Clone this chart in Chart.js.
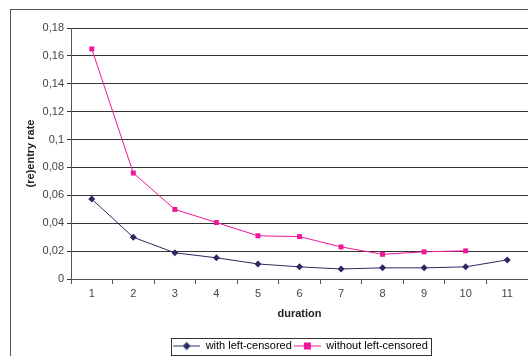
<!DOCTYPE html>
<html>
<head>
<meta charset="utf-8">
<script src="https://cdn.jsdelivr.net/npm/chart.js@4/dist/chart.umd.min.js"></script>
<style>
  html, body { margin: 0; padding: 0; background: #fff; }
  #wrap { width: 528px; height: 356px; position: relative; }
</style>
</head>
<body>
<div id="wrap"><canvas id="c" width="528" height="356"></canvas></div>
<script>
// Durations (categories) and re-entry rates per series
const durations = ['1', '2', '3', '4', '5', '6', '7', '8', '9', '10', '11'];
const withLeftCensored = [0.0573, 0.0299, 0.0188, 0.0152, 0.0108, 0.0087, 0.0072, 0.0080, 0.0080, 0.0087, 0.0137];
const withoutLeftCensored = [0.165, 0.076, 0.0499, 0.0405, 0.031, 0.0304, 0.023, 0.0177, 0.0195, 0.0202, null];
const yTicks = [0, 0.02, 0.04, 0.06, 0.08, 0.1, 0.12, 0.14, 0.16, 0.18];

const NAVY = '#2a2a62';
const PINK = '#f0169a';
const FONT = 'Liberation Sans, Arial, sans-serif';

// Legend swatch: short line with the series marker in the middle (small lead-in gap)
function swatch(color, shape) {
  const cv = document.createElement('canvas');
  cv.width = 29; cv.height = 10;
  const g = cv.getContext('2d');
  g.strokeStyle = color; g.lineWidth = 1;
  g.beginPath(); g.moveTo(2, 5.5); g.lineTo(29, 5.5); g.stroke();
  g.fillStyle = color;
  if (shape === 'diamond') {
    g.beginPath(); g.moveTo(15.5, 1.5); g.lineTo(19.5, 5.5); g.lineTo(15.5, 9.5); g.lineTo(11.5, 5.5); g.closePath(); g.fill();
  } else {
    g.fillRect(12, 2, 7, 7);
  }
  return cv;
}

// Outer frame, legend centred under the plot area, legend border
const framePlugin = {
  id: 'frame',
  afterLayout(chart) {
    const lg = chart.legend, ca = chart.chartArea;
    if (lg) {
      lg.left = ca.left; lg.right = ca.right; lg.width = ca.right - ca.left;
      lg.top += 5; lg.bottom += 5;
    }
  },
  beforeDraw(chart) {
    const ctx = chart.ctx;
    ctx.save();
    ctx.fillStyle = '#fff';
    ctx.fillRect(0, 0, chart.width, chart.height);
    ctx.strokeStyle = '#555';
    ctx.lineWidth = 1;
    ctx.strokeRect(10.5, 9.5, 700, 500);
    ctx.restore();
  },
  afterDraw(chart) {
    const lg = chart.legend, ca = chart.chartArea;
    const lw = lg.lineWidths[0];
    const start = (ca.left + ca.right - lw) / 2;
    const x = Math.round(start) + 0.5;
    const w = Math.round(lw + 3);
    const ctx = chart.ctx;
    ctx.save();
    ctx.strokeStyle = '#333';
    ctx.lineWidth = 1;
    ctx.strokeRect(x, 338.5, w, 17);
    ctx.restore();
  }
};

new Chart(document.getElementById('c'), {
  type: 'line',
  data: {
    labels: durations,
    datasets: [
      {
        label: 'with left-censored',
        data: withLeftCensored,
        borderColor: NAVY,
        backgroundColor: NAVY,
        borderWidth: 1,
        pointStyle: 'rectRot',
        pointRadius: 3.5,
        pointBorderWidth: 0,
        tension: 0
      },
      {
        label: 'without left-censored',
        data: withoutLeftCensored,
        borderColor: PINK,
        backgroundColor: PINK,
        borderWidth: 1,
        pointStyle: 'rect',
        pointRadius: 3.5,
        pointBorderWidth: 0,
        tension: 0
      }
    ]
  },
  options: {
    responsive: false,
    animation: false,
    events: [],
    layout: { autoPadding: false, padding: { top: 28, right: 0, left: 0, bottom: 0 } },
    plugins: {
      tooltip: { enabled: false },
      legend: {
        position: 'bottom',
        labels: {
          usePointStyle: true,
          pointStyleWidth: 29,
          color: '#222',
          font: { family: FONT, size: 11 },
          padding: 0,
          boxHeight: 10,
          generateLabels(chart) {
            return chart.data.datasets.map((ds, i) => ({
              text: ds.label,
              fillStyle: ds.borderColor,
              strokeStyle: ds.borderColor,
              lineWidth: 0,
              pointStyle: swatch(ds.borderColor, i === 0 ? 'diamond' : 'square'),
              datasetIndex: i
            }));
          }
        }
      }
    },
    scales: {
      x: {
        offset: true,
        grid: {
          display: true,
          offset: true,
          drawOnChartArea: false,
          drawTicks: true,
          tickLength: 5,
          color: '#555'
        },
        border: { color: '#555', width: 1 },
        ticks: { color: '#444', font: { family: FONT, size: 11 }, padding: 3 },
        title: {
          display: true,
          text: 'duration',
          color: '#222',
          font: { family: FONT, size: 11, weight: 'bold' },
          padding: { top: 0, bottom: 14 }
        },
        afterFit(s) { s.height = 56; s.paddingRight = 0; s.paddingLeft = 0; }
      },
      y: {
        min: 0,
        max: 0.18,
        afterBuildTicks(s) { s.ticks = yTicks.map(v => ({ value: v })); },
        grid: { color: '#333', tickLength: 4, lineWidth: 1 },
        border: { color: '#555', width: 1 },
        ticks: {
          color: '#444',
          font: { family: FONT, size: 11 },
          padding: 3,
          callback: v => String(Math.round(v * 100) / 100).replace('.', ',')
        },
        title: {
          display: true,
          text: '(re)entry rate',
          color: '#222',
          font: { family: FONT, size: 11, weight: 'bold' },
          padding: { top: 24, bottom: 0 }
        },
        afterFit(s) { s.width = 71; s.paddingTop = 0; s.paddingBottom = 0; }
      }
    }
  },
  plugins: [framePlugin]
});
</script>
</body>
</html>
